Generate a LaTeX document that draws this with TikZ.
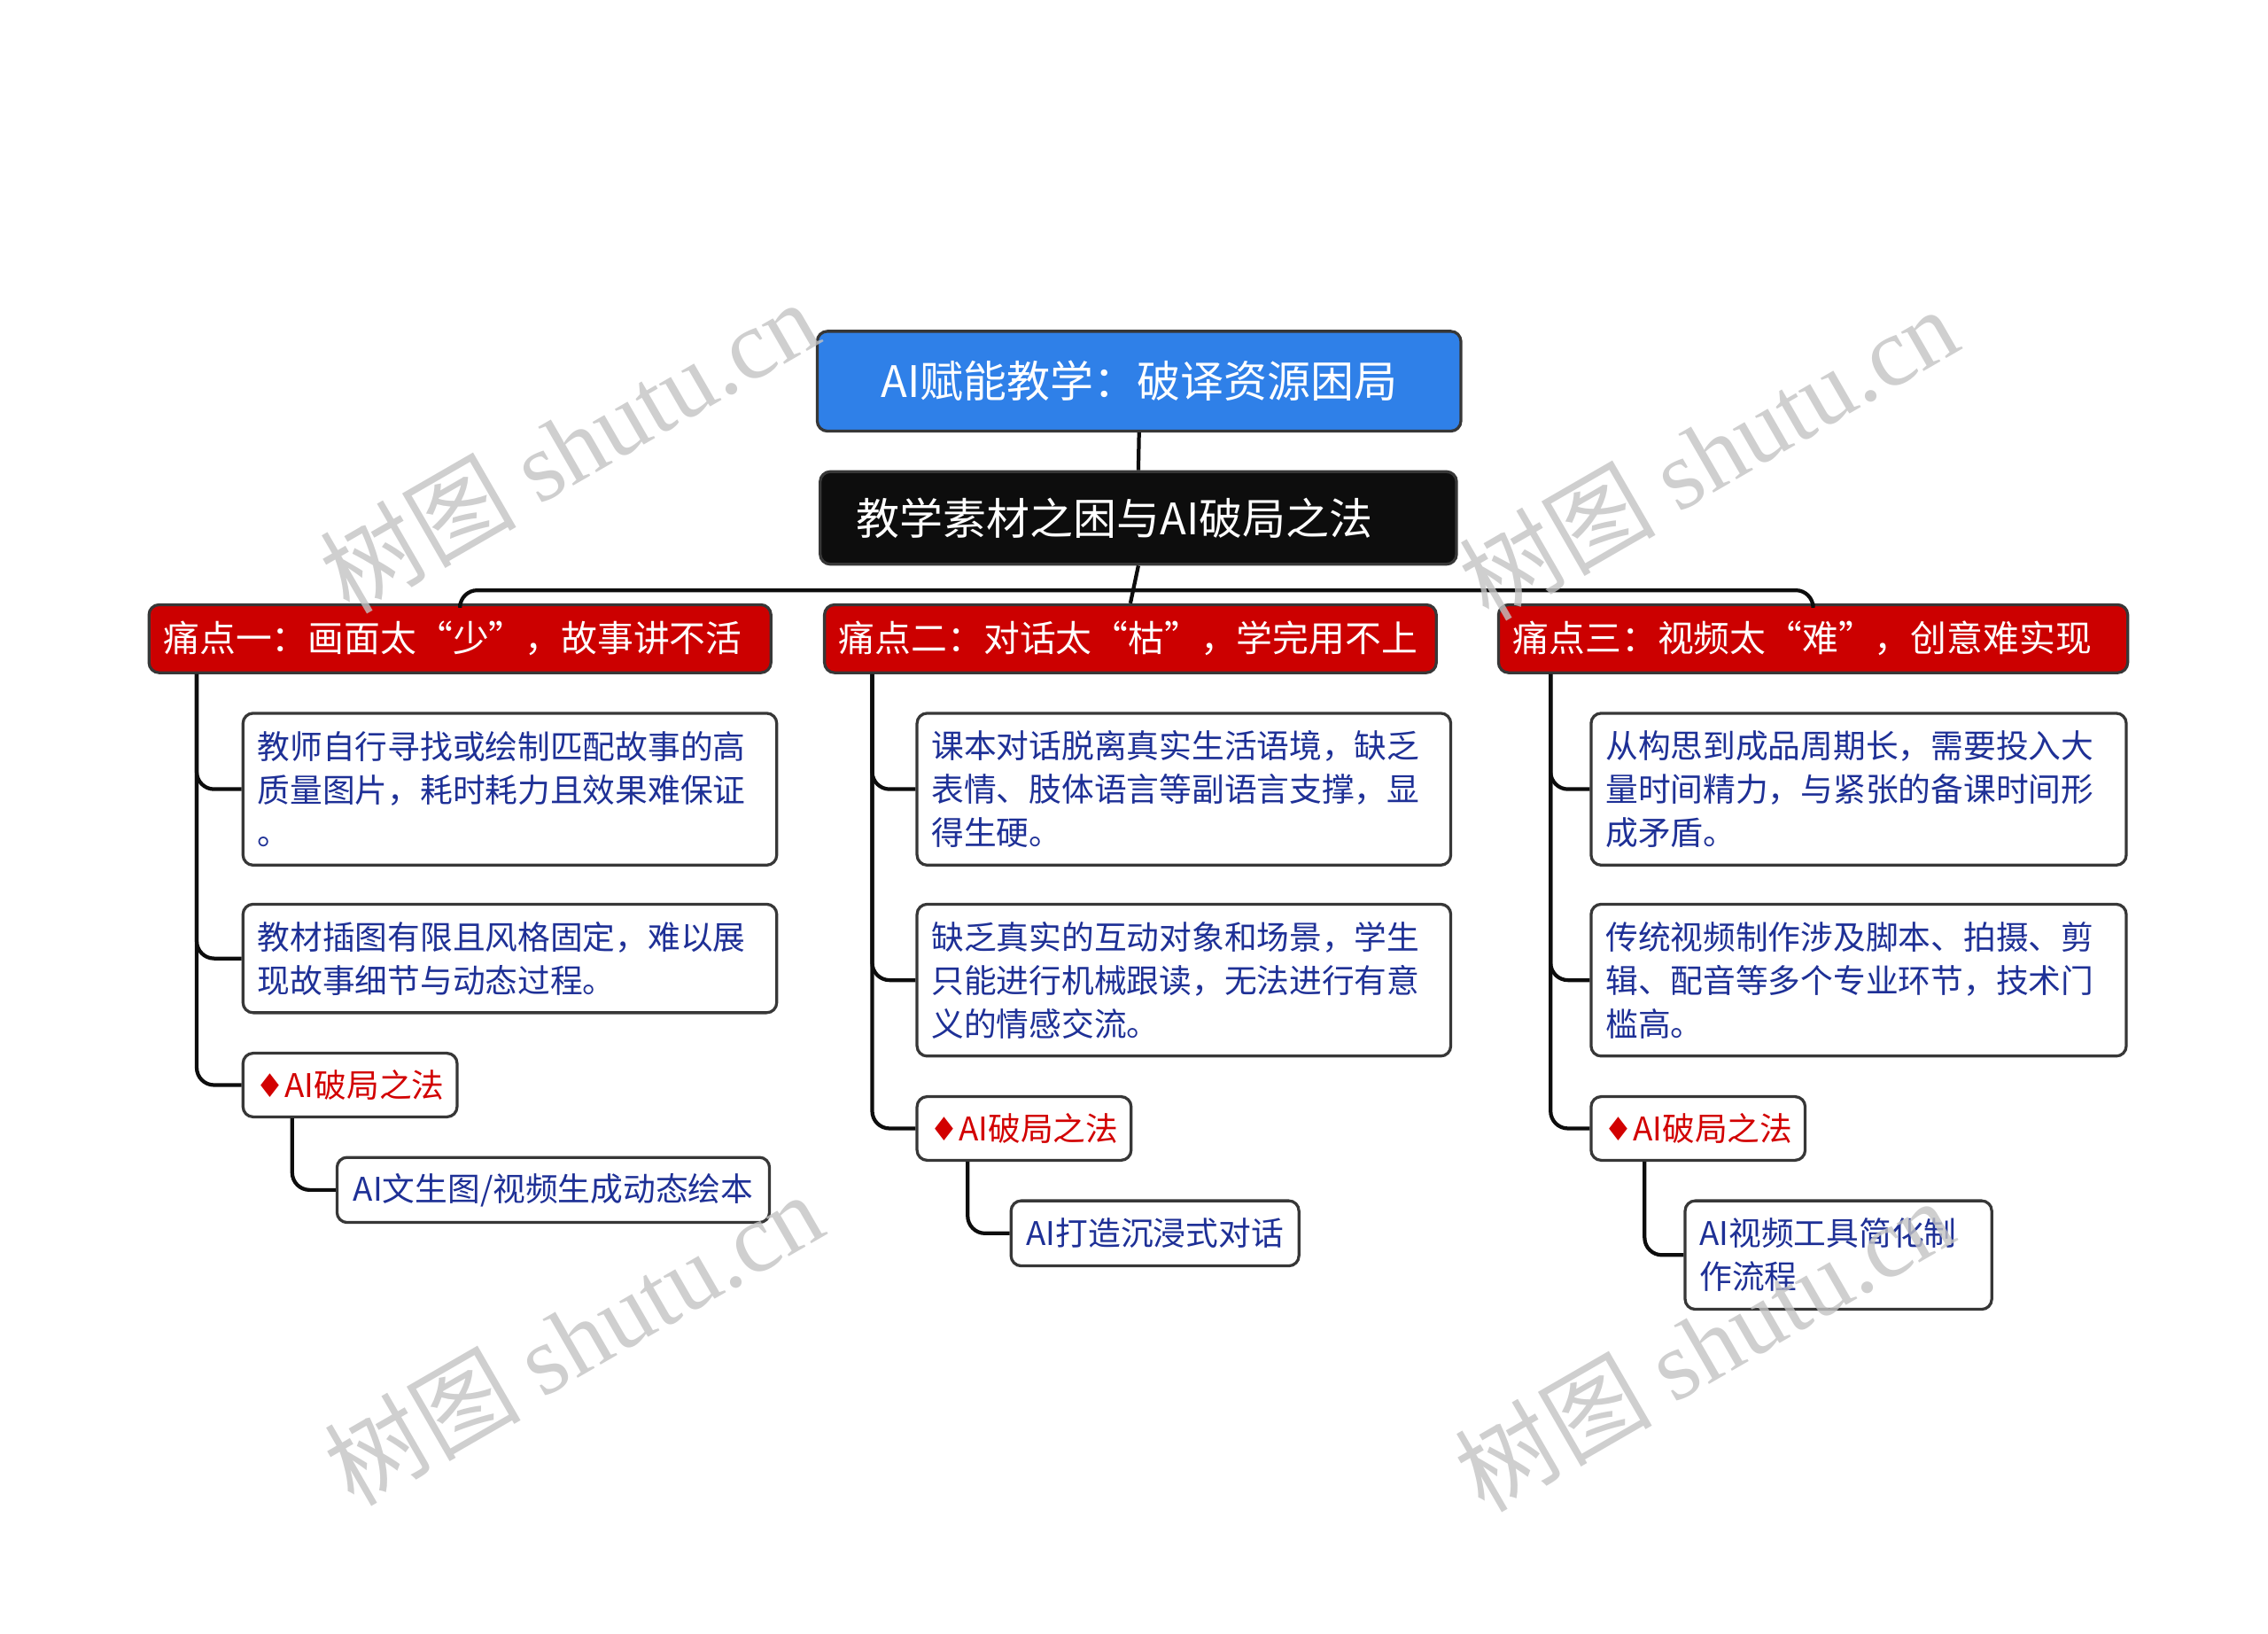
\documentclass[tikz,border=0pt]{standalone}
\usepackage{fontspec}
\setmainfont{Noto Sans CJK SC}
\newfontfamily\symfont{DejaVu Sans}
\newfontfamily\wmlatin{Liberation Serif}
\usetikzlibrary{calc}
\definecolor{rootblue}{RGB}{47,128,232}
\definecolor{painred}{RGB}{204,0,0}
\definecolor{nearblack}{RGB}{13,13,13}
\definecolor{txtblue}{RGB}{30,48,150}
\definecolor{solred}{RGB}{210,0,0}
\definecolor{edgegray}{RGB}{55,55,55}
\definecolor{wmgray}{RGB}{195,195,195}
\begin{document}
\begin{tikzpicture}[x=1pt,y=-1pt,
  box/.style={draw=edgegray, line width=2pt, rounded corners=7pt, inner sep=0pt},
  rootbox/.style={box, fill=rootblue, text=white, minimum width=445pt, minimum height=69pt, font=\fontsize{30}{36}\selectfont},
  topicbox/.style={box, fill=nearblack, text=white, minimum width=440pt, minimum height=64pt, text width=390pt, align=left, font=\fontsize{30}{36}\selectfont},
  painbox/.style={box, fill=painred, text=white, minimum height=47pt, inner xsep=10pt, align=left, font=\fontsize{25}{30}\selectfont},
  leafbox/.style={box, fill=white, text=txtblue, align=left, inner xsep=10pt, font=\fontsize{22.5}{30}\selectfont},
  solbox/.style={box, fill=white, text=solred, minimum width=148pt, minimum height=44pt, font=\fontsize{22.5}{30}\selectfont},
  conn/.style={draw=nearblack, line width=2.6pt, rounded corners=12pt},
  wm/.style={text=wmgray, opacity=0.8, rotate=30, font=\fontsize{68}{76}\selectfont}
]
\useasboundingbox (0,0) rectangle (1568,1129);

% main nodes
\node[rootbox] (root) at (787.5,263.5) {AI赋能教学：破译资源困局};
\node[topicbox] (topic) at (787,358) {教学素材之困与AI破局之法};

\node[painbox, text width=410pt] (p1) at (318,441.5) {痛点一：画面太“少”，故事讲不活};
\node[painbox, text width=403pt] (p2) at (781.5,441.5) {痛点二：对话太“枯”，学完用不上};
\node[painbox, text width=415pt] (p3) at (1253.5,441.5) {痛点三：视频太“难”，创意难实现};

% branch 1
\node[leafbox, text width=349pt, minimum height=105pt] (a1) at (352.5,545.5) {教师自行寻找或绘制匹配故事的高\\质量图片，耗时耗力且效果难保证\\。};
\node[leafbox, text width=349pt, minimum height=75pt] (b1) at (352.5,662.5) {教材插图有限且风格固定，难以展\\现故事细节与动态过程。};
\node[solbox] (c1) at (242,750) {{\symfont ♦}AI破局之法};
\node[leafbox, minimum width=299pt, minimum height=45pt, align=center] (d1) at (382.5,822.5) {AI文生图/视频生成动态绘本};

% branch 2
\node[leafbox, text width=349pt, minimum height=105pt] (a2) at (818.5,545.5) {课本对话脱离真实生活语境，缺乏\\表情、肢体语言等副语言支撑，显\\得生硬。};
\node[leafbox, text width=349pt, minimum height=105pt] (b2) at (818.5,677.5) {缺乏真实的互动对象和场景，学生\\只能进行机械跟读，无法进行有意\\义的情感交流。};
\node[solbox] (c2) at (708,780) {{\symfont ♦}AI破局之法};
\node[leafbox, minimum width=199pt, minimum height=45pt, align=center] (d2) at (798.5,852.5) {AI打造沉浸式对话};

% branch 3
\node[leafbox, text width=350pt, minimum height=105pt] (a3) at (1285,545.5) {从构思到成品周期长，需要投入大\\量时间精力，与紧张的备课时间形\\成矛盾。};
\node[leafbox, text width=350pt, minimum height=105pt] (b3) at (1285,677.5) {传统视频制作涉及脚本、拍摄、剪\\辑、配音等多个专业环节，技术门\\槛高。};
\node[solbox] (c3) at (1174,780) {{\symfont ♦}AI破局之法};
\node[leafbox, text width=192pt, minimum height=75pt] (d3) at (1271,867.5) {AI视频工具简化制\\作流程};

% trunk start points
\coordinate (t1) at ($(p1.south west)+(34,0)$);
\coordinate (t2) at ($(p2.south west)+(34,0)$);
\coordinate (t3) at ($(p3.south west)+(37,0)$);
\coordinate (s1) at ($(c1.south west)+(35,0)$);
\coordinate (s2) at ($(c2.south west)+(36,0)$);
\coordinate (s3) at ($(c3.south west)+(38,0)$);
\coordinate (bus) at ($(topic.south)+(0,17)$);

% connectors
\draw[conn] (root.south) -- (topic.north);
\draw[conn] (p1.north) |- (bus) -| (p3.north);
\draw[conn] (topic.south) -- (p2.north);

\foreach \t/\n in {t1/a1, t1/b1, t1/c1, t2/a2, t2/b2, t2/c2, t3/a3, t3/b3, t3/c3, s1/d1, s2/d2, s3/d3}
  \draw[conn] (\t) |- (\n.west);

% watermarks
\node[wm] (w1) at (393,308) {树图 {\wmlatin shutu.cn}};
\node[wm] (w2) at (1181,313) {树图 {\wmlatin shutu.cn}};
\node[wm] (w3) at (396,925) {树图 {\wmlatin shutu.cn}};
\node[wm] (w4) at (1178,929) {树图 {\wmlatin shutu.cn}};
\end{tikzpicture}
\end{document}
